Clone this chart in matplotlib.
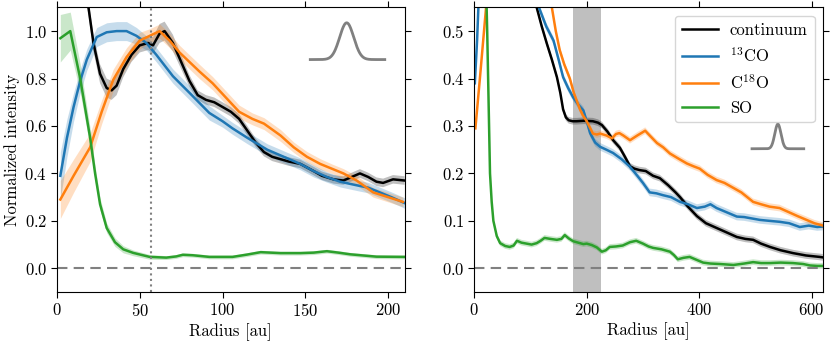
import numpy as np
import matplotlib
matplotlib.use("Agg")
import matplotlib.pyplot as plt

plt.rcParams.update({
    "font.family": ["cmr10", "DejaVu Serif"],
    "mathtext.fontset": "cm",
    "axes.formatter.use_mathtext": True,
    "axes.unicode_minus": False,
    "font.size": 12,
    "xtick.labelsize": 12,
    "ytick.labelsize": 12,
    "xtick.top": True,
    "ytick.right": True,
    "xtick.direction": "out",
    "ytick.direction": "out",
    "xtick.major.size": 4.5,
    "ytick.major.size": 4.5,
    "xtick.major.pad": 3,
    "ytick.major.pad": 2.5,
    "axes.labelpad": 3,
})

# ---------------- left panel data ----------------
l_cont_x = [0, 5, 10, 15, 19, 22, 26, 30, 33, 36, 40, 45, 50, 55, 58, 62, 65, 70, 75, 80, 85, 90, 95, 100,
            105, 110, 115, 120, 125, 130, 135, 140, 147, 155, 160, 167, 173, 178, 183, 188, 193, 197, 203, 210]
l_cont_y = [3.0, 2.2, 1.6, 1.25, 1.1, 0.95, 0.82, 0.76, 0.75, 0.77, 0.84, 0.9, 0.94, 0.95, 0.94, 0.99, 1.0,
            0.95, 0.87, 0.79, 0.73, 0.71, 0.70, 0.68, 0.66, 0.63, 0.58, 0.53, 0.49, 0.47, 0.46, 0.45, 0.44,
            0.41, 0.39, 0.375, 0.37, 0.385, 0.40, 0.385, 0.365, 0.36, 0.375, 0.37]
l_cont_e = [0.03, 0.03, 0.03, 0.03, 0.03, 0.035, 0.04, 0.04, 0.04, 0.04, 0.035, 0.03, 0.03, 0.03, 0.035,
            0.04, 0.04, 0.035, 0.03, 0.025, 0.02, 0.02, 0.02, 0.02, 0.02, 0.02, 0.02, 0.018, 0.018, 0.018,
            0.018, 0.018, 0.018, 0.018, 0.018, 0.018, 0.018, 0.018, 0.018, 0.018, 0.018, 0.018, 0.018, 0.018]

l_13co_x = [2, 6, 10, 14, 18, 24, 30, 36, 42, 48, 54, 60, 65, 70, 80, 92, 100, 106, 115, 127, 137, 147,
            155, 163, 171, 181, 188, 195, 202, 210]
l_13co_y = [0.39, 0.55, 0.68, 0.79, 0.88, 0.975, 0.995, 1.0, 1.0, 0.98, 0.95, 0.90, 0.855, 0.81, 0.74,
            0.655, 0.62, 0.59, 0.55, 0.50, 0.47, 0.44, 0.41, 0.385, 0.365, 0.35, 0.34, 0.32, 0.30, 0.275]
l_13co_e = [0.1, 0.08, 0.06, 0.05, 0.045, 0.04, 0.04, 0.04, 0.04, 0.035, 0.03, 0.03, 0.03, 0.03, 0.03,
            0.03, 0.025, 0.025, 0.025, 0.025, 0.025, 0.025, 0.025, 0.022, 0.022, 0.022, 0.022, 0.022,
            0.022, 0.022]

l_c18o_x = [2, 10, 20, 27, 34, 42, 50, 56, 62, 68, 74, 80, 86, 94, 102, 110, 118, 125, 135, 143, 151,
            159, 166, 173, 181, 186, 191, 200, 209]
l_c18o_y = [0.29, 0.39, 0.51, 0.66, 0.795, 0.89, 0.96, 0.98, 1.0, 0.96, 0.91, 0.87, 0.83, 0.78, 0.72,
            0.66, 0.63, 0.61, 0.56, 0.51, 0.47, 0.44, 0.42, 0.40, 0.37, 0.345, 0.32, 0.30, 0.28]
l_c18o_e = [0.08, 0.07, 0.06, 0.05, 0.045, 0.04, 0.035, 0.03, 0.03, 0.03, 0.03, 0.03, 0.03, 0.028, 0.028,
            0.028, 0.025, 0.025, 0.025, 0.022, 0.022, 0.022, 0.02, 0.02, 0.02, 0.02, 0.02, 0.02, 0.02]

l_so_x = [2, 8, 14, 20, 23, 26, 30, 35, 40, 46, 56, 66, 72, 76, 82, 92, 106, 115, 123, 135, 147, 155,
          163, 170, 177, 193, 210]
l_so_y = [0.97, 1.0, 0.8, 0.55, 0.40, 0.27, 0.17, 0.11, 0.08, 0.065, 0.048, 0.045, 0.05, 0.057, 0.055,
          0.048, 0.048, 0.058, 0.068, 0.064, 0.064, 0.066, 0.072, 0.066, 0.059, 0.049, 0.048]
l_so_e = [0.1, 0.08, 0.06, 0.04, 0.03, 0.025, 0.02, 0.018, 0.015, 0.012, 0.01, 0.008, 0.008, 0.008,
          0.008, 0.008, 0.008, 0.008, 0.008, 0.008, 0.008, 0.008, 0.008, 0.008, 0.008, 0.008, 0.008]

# ---------------- right panel data ----------------
r_cont_x = [0, 40, 80, 100, 111, 120, 129, 138, 147, 153, 158, 163, 168, 175, 182, 195, 211, 220, 227,
            237, 247, 259, 268, 277, 285, 294, 305, 318, 330, 345, 358, 366, 380, 396, 412, 431, 450, 467,
            482, 496, 510, 526, 545, 567, 590, 614, 620]
r_cont_y = [3.0, 1.3, 0.8, 0.63, 0.55, 0.51, 0.474, 0.44, 0.403, 0.37, 0.335, 0.318, 0.312, 0.31, 0.31,
            0.311, 0.31, 0.307, 0.302, 0.288, 0.27, 0.254, 0.235, 0.215, 0.21, 0.207, 0.205, 0.195, 0.19,
            0.175, 0.16, 0.15, 0.13, 0.11, 0.095, 0.085, 0.075, 0.066, 0.062, 0.06, 0.052, 0.045, 0.038,
            0.032, 0.027, 0.024, 0.023]

r_13co_x = [1, 5, 9, 30, 60, 100, 115, 128, 141, 150, 158, 167, 176, 185, 194, 200, 206, 215, 224, 235,
            247, 262, 277, 290, 300, 312, 324, 336, 350, 366, 380, 396, 410, 420, 431, 445, 455, 467, 480,
            494, 508, 525, 543, 560, 579, 595, 610, 620]
r_13co_y = [0.39, 0.48, 0.6, 1.0, 0.95, 0.65, 0.55, 0.51, 0.48, 0.44, 0.403, 0.38, 0.36, 0.345, 0.333,
            0.31, 0.285, 0.265, 0.256, 0.25, 0.243, 0.23, 0.214, 0.195, 0.18, 0.16, 0.158, 0.154, 0.15,
            0.14, 0.135, 0.127, 0.13, 0.135, 0.127, 0.12, 0.115, 0.109, 0.108, 0.105, 0.102, 0.1, 0.098,
            0.095, 0.087, 0.09, 0.087, 0.088]

r_c18o_x = [2, 10, 21, 60, 100, 138, 145, 152, 160, 170, 177, 182, 188, 193, 200, 211, 218, 224, 235,
            245, 252, 258, 265, 277, 290, 304, 312, 325, 336, 348, 362, 378, 390, 401, 415, 431, 445, 460,
            475, 496, 510, 525, 543, 560, 575, 591, 605, 620]
r_c18o_y = [0.295, 0.4, 0.55, 0.95, 0.75, 0.55, 0.5, 0.46, 0.43, 0.40, 0.37, 0.354, 0.335, 0.323, 0.31,
            0.284, 0.282, 0.284, 0.28, 0.274, 0.283, 0.285, 0.28, 0.27, 0.28, 0.29, 0.28, 0.264, 0.255,
            0.242, 0.232, 0.221, 0.215, 0.21, 0.197, 0.186, 0.18, 0.17, 0.16, 0.14, 0.135, 0.13, 0.127,
            0.118, 0.11, 0.102, 0.095, 0.09]

r_so_x = [0, 10, 20, 23, 28, 31, 34, 40, 46, 55, 63, 70, 76, 84, 93, 102, 111, 118, 125, 135, 147, 155,
          161, 168, 176, 185, 194, 200, 209, 218, 227, 234, 241, 252, 264, 277, 288, 300, 310, 318, 333,
          348, 355, 362, 372, 383, 395, 407, 420, 437, 461, 480, 496, 510, 526, 545, 567, 585, 597, 610, 620]
r_so_y = [1.0, 0.95, 0.65, 0.5, 0.2, 0.14, 0.1, 0.068, 0.053, 0.047, 0.045, 0.048, 0.058, 0.054, 0.052,
          0.05, 0.053, 0.058, 0.064, 0.062, 0.06, 0.062, 0.07, 0.063, 0.057, 0.054, 0.051, 0.052, 0.049,
          0.044, 0.035, 0.038, 0.045, 0.046, 0.048, 0.055, 0.058, 0.052, 0.046, 0.043, 0.04, 0.035, 0.028,
          0.019, 0.022, 0.024, 0.018, 0.012, 0.01, 0.009, 0.007, 0.01, 0.013, 0.011, 0.011, 0.012, 0.011,
          0.009, 0.006, 0.005, 0.005]
r_err = {"cont": 0.007, "13co": 0.008, "c18o": 0.007, "so": 0.006}

labels = ["continuum", r"$^{13}$CO", r"C$^{18}$O", "SO"]
colors = ["black", "#1f77b4", "#ff7f0e", "#2ca02c"]

# beam markers
l_beam = dict(x0=153, x1=198, xc=175, fwhm=10, base=0.88, amp=0.155)
r_beam = dict(x0=494, x1=586, xc=540, fwhm=13, base=0.252, amp=0.052)
gap_band = (175, 225)
sep_line = 57

fig = plt.figure(figsize=(8.3, 3.45), dpi=100)
axL = fig.add_axes([0.0687, 0.1536, 0.4188, 0.825])
axR = fig.add_axes([0.5714, 0.1536, 0.4200, 0.825])


def band(ax, x, y, e, c):
    x = np.asarray(x, float); y = np.asarray(y, float); e = np.asarray(e, float) * np.ones_like(y)
    ax.fill_between(x, y - e, y + e, color=c, alpha=0.25, lw=0)


def beam(ax, b):
    xs = np.linspace(b["x0"], b["x1"], 200)
    sig = b["fwhm"] / 2.3548
    ax.plot(xs, b["base"] + b["amp"] * np.exp(-0.5 * ((xs - b["xc"]) / sig) ** 2), color="grey", lw=2)


left = [(l_cont_x, l_cont_y, l_cont_e), (l_13co_x, l_13co_y, l_13co_e),
        (l_c18o_x, l_c18o_y, l_c18o_e), (l_so_x, l_so_y, l_so_e)]
for (x, y, e), c, lab in zip(left, colors, labels):
    band(axL, x, y, e, c)
    axL.plot(x, y, color=c, lw=1.8, label=lab)
axL.axhline(0, color="grey", ls="--", lw=1.5, dashes=(5, 3))
axL.axvline(sep_line, color="grey", ls=":", lw=1.5)
beam(axL, l_beam)
axL.set_xlim(0, 210)
axL.set_ylim(-0.1, 1.1)
axL.set_xticks([0, 50, 100, 150, 200])
axL.set_yticks([0.0, 0.2, 0.4, 0.6, 0.8, 1.0])
axL.set_xlabel("Radius [au]")
axL.set_ylabel("Normalized intensity")

right = [(r_cont_x, r_cont_y, r_err["cont"]), (r_13co_x, r_13co_y, r_err["13co"]),
         (r_c18o_x, r_c18o_y, r_err["c18o"]), (r_so_x, r_so_y, r_err["so"])]
axR.axvspan(*gap_band, color="grey", alpha=0.5, lw=0)
for (x, y, e), c, lab in zip(right, colors, labels):
    band(axR, x, y, e, c)
    axR.plot(x, y, color=c, lw=1.8, label=lab)
axR.axhline(0, color="grey", ls="--", lw=1.5, dashes=(5, 3))
beam(axR, r_beam)
axR.set_xlim(0, 620)
axR.set_ylim(-0.05, 0.55)
axR.set_xticks([0, 200, 400, 600])
axR.set_yticks([0.0, 0.1, 0.2, 0.3, 0.4, 0.5])
axR.set_xlabel("Radius [au]")
axR.legend(loc="upper right", fontsize=12, handlelength=2.2, handletextpad=0.7)

fig.savefig("out.png", dpi=100)
